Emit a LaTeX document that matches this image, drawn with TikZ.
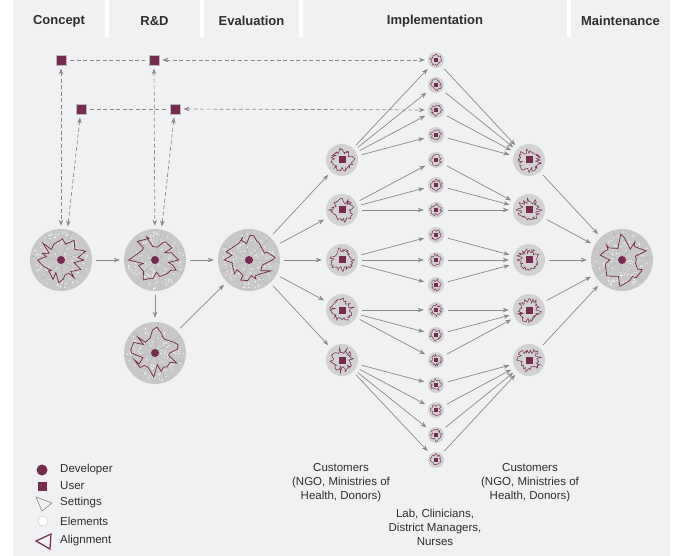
\documentclass[tikz,border=0pt]{standalone}
\usepackage{fontspec}
\setmainfont{Liberation Sans}
\usetikzlibrary{arrows.meta}
\definecolor{panel}{HTML}{F0F1F3}
\definecolor{maroon}{HTML}{772B4E}
\definecolor{disc}{HTML}{C8C8C8}
\definecolor{discb}{HTML}{D2D2D2}
\definecolor{linkgray}{HTML}{8A8A8A}
\definecolor{txt}{HTML}{2E2E2E}

\begin{document}
\begin{tikzpicture}[
    x=1pt,
    y=-1pt,
    >={Stealth[length=6pt,width=4.5pt]},
    font=\fontsize{11.5}{14}\selectfont,
    hdr/.style={font=\fontsize{13}{15}\selectfont\bfseries,text=txt},
    lbl/.style={anchor=west,inner sep=0pt,text=txt},
    bigdisc/.style={circle,fill=disc,minimum size=62pt,inner sep=0pt},
    middisc/.style={circle,fill=discb,minimum size=32pt,inner sep=0pt},
    smalldisc/.style={circle,fill=discb,minimum size=16pt,inner sep=0pt},
    usr/.style={fill=maroon,draw=linkgray!60,line width=0.3pt,minimum size=10.5pt,inner sep=0pt},
    link/.style={linkgray,line width=0.7pt,->,shorten >=4pt,shorten <=4pt},
    dlink/.style={linkgray,line width=0.7pt,<->,dash pattern=on 4pt off 2.5pt,shorten >=3pt,shorten <=3pt},
    plain/.style={linkgray,line width=0.7pt,dash pattern=on 4pt off 2.5pt,shorten >=4pt,shorten <=4pt},
    spoke/.style={disc!88!black,line width=0.4pt},
    contour/.style={maroon,line width=0.75pt,line join=miter}
]
    % Panel and header
    \useasboundingbox (0,0) rectangle (675,556);
    \fill[white] (0,0) rectangle (675,556);
    \fill[panel] (13,0) rectangle (670,556);
    \foreach \sx in {105,200,299,567}{
        \fill[white] (\sx,0) rectangle (\sx+4,37);
    }
    \node[hdr] (hcon) at (59,21) {Concept};
    \node[hdr] (hrnd) at (154.5,21) {R\&D};
    \node[hdr] (heva) at (251.5,21) {Evaluation};
    \node[hdr] (himp) at (435,21) {Implementation};
    \node[hdr] (hmnt) at (620.5,21) {Maintenance};

    % Developer discs
    \foreach \n/\px/\py/\s in {concept/61/260/3,rnd/155/260/7,rndb/155/353/11,eval/249/260/5,maint/622/260/9}{
        \pgfmathsetseed{\s}
        \node[bigdisc] (\n) at (\px,\py) {};
        \foreach \k in {1,...,100}
            \fill[white!85!disc] (\px,\py) ++({360*rnd}:{29*sqrt(rnd)}) circle[radius=0.75pt];
        \foreach \a in {0,...,6}
            \draw[spoke] (\px,\py) -- ++({\a*51.4+\s*11}:30.5);
        \draw[contour,shift={(\px,\py)}] plot[samples=30,domain=0:348,variable=\t]
            (\t:{27*(0.42+0.58*rnd)}) -- cycle;
        \fill[maroon] (\px,\py) circle[radius=4pt];
    }

    % Customer discs
    \foreach \k in {1,...,5}{
        \pgfmathsetseed{20+\k}
        \pgfmathsetmacro\py{160+50*(\k-1)}
        \node[middisc] (cus\k) at (342,\py) {};
        \node[middisc] (cusb\k) at (529,\py) {};
        \foreach \px in {342,529}{
            \draw[contour,line width=0.5pt,shift={(\px,\py)}] plot[samples=48,domain=0:352.5,variable=\t]
                (\t:{13*(0.5+0.5*rnd)}) -- cycle;
            \fill[maroon] (\px,\py) ++(-3.5,-3.5) rectangle ++(7,7);
        }
    }

    % Lab, clinicians, managers, nurses
    \foreach \k in {1,...,17}{
        \pgfmathsetseed{40+\k}
        \pgfmathsetmacro\py{60+25*(\k-1)}
        \node[smalldisc] (lab\k) at (436,\py) {};
        \draw[contour,line width=0.4pt,shift={(436,\py)}] plot[samples=26,domain=0:346,variable=\t]
            (\t:{6.5*(0.5+0.5*rnd)}) -- cycle;
        \fill[maroon] (436,\py) ++(-2,-2) rectangle ++(4,4);
    }

    % Users
    \node[usr] (u1) at (61,60) {};
    \node[usr] (u2) at (154,60) {};
    \node[usr] (u3) at (81,109) {};
    \node[usr] (u4) at (175,109) {};
    \draw[plain] (u1) -- (u2);
    \draw[plain] (u3) -- (u4);
    \draw[dlink] (u2) -- (lab1);
    \draw[dlink] (u4) -- (lab3);
    \draw[dlink] (u1) -- (concept);
    \draw[dlink] (u3) -- (concept.78);
    \draw[dlink] (u2) -- (rnd);
    \draw[dlink] (u4) -- (rnd.78);

    % Flow
    \draw[link] (concept) -- (rnd);
    \draw[link] (rnd) -- (rndb);
    \draw[link] (rnd) -- (eval);
    \draw[link] (rndb) -- (eval);
    \foreach \k in {1,...,5}{
        \draw[link] (eval) -- (cus\k);
        \draw[link] (cusb\k) -- (maint);
    }
    \foreach \c/\a/\b in {1/1/4,2/5/7,3/8/10,4/11/13,5/14/17}{
        \foreach \k in {\a,...,\b}{
            \draw[link] (cus\c) -- (lab\k);
            \draw[link] (lab\k) -- (cusb\c);
        }
    }

    % Group labels
    \node[align=center,text=txt] (tcus) at (341,483)
        {Customers\\(NGO, Ministries of\\Health, Donors)};
    \node[align=center,text=txt] (tcusb) at (530,483)
        {Customers\\(NGO, Ministries of\\Health, Donors)};
    \node[align=center,text=txt] (tlab) at (435,527)
        {Lab, Clinicians,\\District Managers,\\Nurses};

    % Legend
    \node[circle,fill=maroon,minimum size=11pt,inner sep=0pt] (kdev) at (42,470) {};
    \node[lbl] (tdev) at (60,470) {Developer};
    \node[fill=maroon,minimum size=9pt,inner sep=0pt] (kusr) at (42,486) {};
    \node[lbl] (tusr) at (60,486) {User};
    \draw[linkgray,line width=0.6pt,line join=round] (36,497) -- (52,503) -- (42,511) -- cycle;
    \node[lbl] (tset) at (60,503) {Settings};
    \node[circle,draw=linkgray!45,fill=white,minimum size=10pt,inner sep=0pt] (kele) at (43,521) {};
    \node[lbl] (tele) at (60,521) {Elements};
    \draw[maroon,line width=1.2pt,line join=miter] (36,541) -- (51,534) -- (50,549) -- cycle;
    \node[lbl] (tali) at (60,541) {Alignment};
\end{tikzpicture}
\end{document}
